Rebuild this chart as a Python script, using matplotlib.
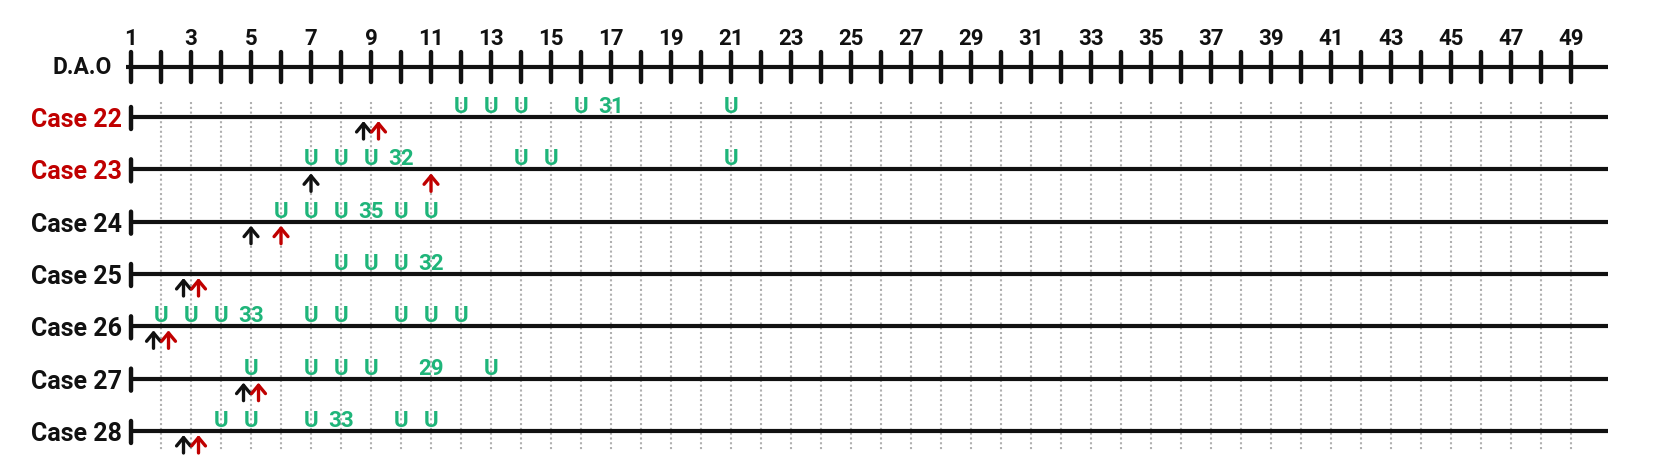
"""Day-by-day timeline of U marks and arrows for cases 22-28."""

import matplotlib
matplotlib.use("Agg")
import matplotlib.pyplot as plt
from matplotlib.transforms import offset_copy

DAYS = list(range(1, 50))
TICK_DAYS = list(range(1, 50, 2))
CASES = ["Case 22", "Case 23", "Case 24", "Case 25", "Case 26", "Case 27", "Case 28"]
CASE_COLORS = ["#c00000", "#c00000", "#111111", "#111111", "#111111", "#111111", "#111111"]
U_DAYS = [
    [12, 13, 14, 16, 21],
    [7, 8, 9, 14, 15, 21],
    [6, 7, 8, 10, 11],
    [8, 9, 10],
    [2, 3, 4, 7, 8, 10, 11, 12],
    [5, 7, 8, 9, 13],
    [4, 5, 7, 10, 11],
]
COUNT_DAYS = [17, 10, 9, 11, 5, 11, 8]
COUNTS = [31, 32, 35, 32, 33, 29, 33]
BLACK_ARROW = [9, 7, 5, 3, 2, 5, 3]
RED_ARROW = [9, 11, 6, 3, 2, 5, 3]

GREEN = "#1fb57a"
RED = "#c00000"
BLACK = "#111111"


def main():
    """Go Main Go."""
    plt.rcParams["font.family"] = ["Roboto", "DejaVu Sans"]
    fig = plt.figure(figsize=(16.62, 4.71), dpi=100)
    ax = fig.add_axes([0, 0, 1, 1])
    ax.set_xlim(-3.367, 52.033)
    ax.set_ylim(6.765, -2.236)
    ax.axis("off")

    def off(dx, dy):
        return offset_copy(ax.transData, fig=fig, x=dx, y=dy, units="dots")

    rows = list(range(len(CASES)))
    dao = -0.955
    end = 50.23

    # D.A.O axis
    ax.plot([0.83, end], [dao, dao], color=BLACK, lw=3.0,
            solid_capstyle="butt", zorder=3)
    for d in DAYS:
        ax.annotate("", xy=(d, dao), xycoords=off(0, 15),
                    xytext=(d, dao), textcoords=off(0, -15),
                    arrowprops=dict(arrowstyle="-", lw=3.2, color=BLACK,
                                    shrinkA=0, shrinkB=0))
    for d in TICK_DAYS:
        ax.text(d, dao, str(d), transform=off(0, 22), ha="center",
                va="baseline", fontsize=16, fontweight="bold", color=BLACK)
    ax.text(1, dao, "D.A.O", transform=off(-19, -7), ha="right",
            va="baseline", fontsize=16.5, fontweight="bold", color=BLACK)

    # dotted day guides
    ax.vlines(DAYS[1:], -0.29, 6.36, colors="#b0b0b0", lw=1.5,
              linestyles=(0, (1, 1.3)), zorder=1)

    for r, name, col, ud, cd, cnt, ba, ra in zip(
            rows, CASES, CASE_COLORS, U_DAYS, COUNT_DAYS, COUNTS,
            BLACK_ARROW, RED_ARROW):
        ax.plot([1, end], [r, r], color=BLACK, lw=3.0,
                solid_capstyle="butt", zorder=3)
        ax.annotate("", xy=(1, r), xycoords=off(0, 10),
                    xytext=(1, r), textcoords=off(0, -12),
                    arrowprops=dict(arrowstyle="-", lw=3.2, color=BLACK,
                                    shrinkA=0, shrinkB=0))
        ax.text(1, r, name, transform=off(-9, -10), ha="right",
                va="baseline", fontsize=18, fontweight="bold", color=col)
        for d in ud:
            ax.text(d, r, "U", transform=off(0, 4), ha="center",
                    va="baseline", fontsize=16, fontweight="bold",
                    color=GREEN, zorder=4)
        ax.text(cd, r, str(cnt), transform=off(0, 4), ha="center",
                va="baseline", fontsize=16, fontweight="bold",
                color=GREEN, zorder=4)
        if ba == ra:
            bx, rx = ba - 0.25, ra + 0.25
        else:
            bx, rx = ba, ra
        for x, c in ((bx, BLACK), (rx, RED)):
            ax.annotate("", xy=(x, r), xycoords=off(0, -4),
                        xytext=(x, r), textcoords=off(0, -22),
                        arrowprops=dict(
                            arrowstyle="->,head_length=0.6,head_width=0.5",
                            lw=2.4, color=c, shrinkA=0, shrinkB=0,
                            mutation_scale=10))

    fig.savefig("out.png", dpi=100)


if __name__ == "__main__":
    main()
